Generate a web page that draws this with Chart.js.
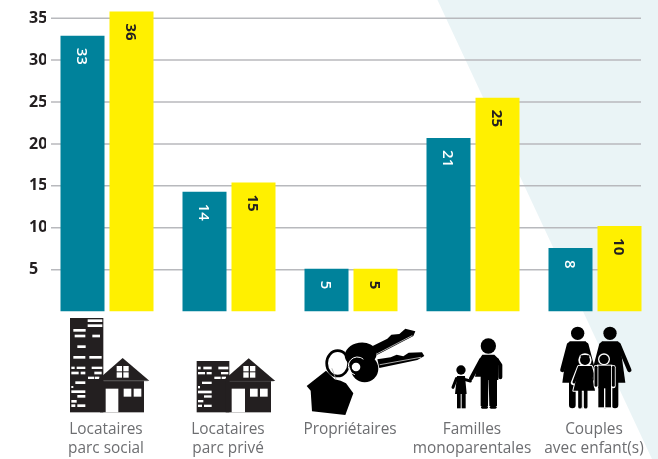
<!DOCTYPE html>
<html><head><meta charset="utf-8">
<style>html,body{margin:0;padding:0;background:#fff}canvas{display:block}</style>
<script src="https://cdn.jsdelivr.net/npm/chart.js@4"></script>
</head><body><canvas id="c" width="658" height="459"></canvas>
<script>
const categories = [["Locataires","parc social"],["Locataires","parc privé"],"Propriétaires",["Familles","monoparentales"],["Couples","avec enfant(s)"]];
const tealValues = [32.9,14.3,5.1,20.7,7.6];
const yellowValues = [35.8,15.4,5.1,25.5,10.2];
const tealLabels = ["33","14","5","21","8"];
const yellowLabels = ["36","15","5","25","10"];
const yTicks = [5,10,15,20,25,30,35];

const INK = "#231f20";
function zoomed(ctx,ox,oy,fn){ctx.save();ctx.translate(ox,oy);ctx.scale(1/3,1/3);fn();ctx.restore();}
function rects(ctx,list,color){ctx.fillStyle=color;list.forEach(r=>ctx.fillRect(r[0],r[2],r[1]-r[0],r[3]-r[2]));}
function poly(ctx,pts,color){ctx.fillStyle=color;ctx.beginPath();pts.forEach((p,i)=>i?ctx.lineTo(p[0],p[1]):ctx.moveTo(p[0],p[1]));ctx.closePath();ctx.fill();}
function disc(ctx,x,y,r,color){ctx.fillStyle=color;ctx.beginPath();ctx.arc(x,y,r,0,Math.PI*2);ctx.fill();}
function limb(ctx,pts,w,color){ctx.strokeStyle=color;ctx.lineWidth=w;ctx.lineCap="round";ctx.lineJoin="round";ctx.beginPath();pts.forEach((p,i)=>i?ctx.lineTo(p[0],p[1]):ctx.moveTo(p[0],p[1]));ctx.stroke();}

function house(ctx,h){
  poly(ctx,[[h.ax,h.ay],[h.rx,h.ry],[h.lx,h.ry]],INK);
  rects(ctx,[[h.bl,h.br,h.ry,h.bot]],INK);
  limb(ctx,[[h.lx+22,h.ry+1],[h.rx-6,h.ry+1]],1.2,"#777");
  rects(ctx,[[h.dl,h.dr,h.wt,h.bot],[h.w1,h.w1+23,h.wt,h.wt+24],[h.w1+30,h.w1+53,h.wt,h.wt+24],
    [h.al,h.al+16,h.at,h.at+16],[h.al+20,h.al+36,h.at,h.at+16],[h.al,h.al+16,h.at+19,h.at+35],[h.al+20,h.al+36,h.at+19,h.at+35]],"#fff");
}
function icon1(ctx){zoomed(ctx,60,314,()=>{
  rects(ctx,[[30,130,12,295]],INK);
  rects(ctx,[[83,127,16,24],[83,127,31,39],[40,77,45,53],[44,76,62,70],[97,120,62,70],[52,77,94,102],[40,76,126,134],[88,125,126,134],[34,44,158,165],[50,76,158,165],[95,127,158,165],[34,56,173,181],[62,76,173,181],[103,125,173,181],[84,103,188,195],[105,118,188,195],[46,76,202,210],[34,40,216,222],[34,76,229,237],[52,76,243,251],[34,50,258,266],[34,46,271,279],[52,76,271,279]],"#fff");
  house(ctx,{ax:188,ay:132,lx:110,rx:268,ry:200,bl:120,br:252,bot:295,dl:137,dr:175,wt:224,w1:191,al:170,at:156});
});}
function icon2(ctx){zoomed(ctx,190,350,()=>{
  rects(ctx,[[20,118,33,187]],INK);
  rects(ctx,[[24,32,50,58],[40,65,50,58],[85,115,50,58],[24,45,66,73],[50,65,66,73],[93,115,66,73],[73,92,80,87],[95,108,80,87],[36,65,95,102],[24,30,108,115],[24,65,122,130],[42,65,136,143],[24,40,150,157],[24,36,164,171],[42,65,164,171]],"#fff");
  house(ctx,{ax:176,ay:25,lx:98,rx:256,ry:93,bl:107,br:243,bot:187,dl:125,dr:165,wt:116,w1:180,al:160,at:48});
});}
function icon3(ctx){zoomed(ctx,300,322,()=>{
  // ring behind
  ctx.strokeStyle="#000";ctx.lineWidth=8;ctx.beginPath();ctx.ellipse(113,124,33,38,0,0,Math.PI*2);ctx.stroke();
  // house tag
  poly(ctx,[[20,192],[78,146],[104,172],[122,176],[138,184],[160,214],[136,279],[36,268],[32,206]],"#000");
  // key blades
  poly(ctx,[[218,72],[262,50],[274,38],[298,36],[316,20],[346,28],[340,42],[232,98]],"#000");
  poly(ctx,[[232,112],[272,106],[290,98],[310,103],[326,92],[366,91],[373,102],[352,114],[238,138]],"#000");
  // key heads
  ctx.fillStyle="#000";ctx.beginPath();ctx.ellipse(182,98,48,36,-0.15,0,Math.PI*2);ctx.fill();
  disc(ctx,194,140,41,"#000");
  // slits
  limb(ctx,[[232,95],[336,41]],2,"#fff");
  limb(ctx,[[240,128],[362,106]],2,"#fff");
  // hole and small ring
  disc(ctx,168,135,13,"#fff");
  ctx.strokeStyle="#fff";ctx.lineWidth=3;ctx.beginPath();ctx.arc(172,132,27,1.9,5.4);ctx.stroke();
  ctx.strokeStyle="#000";ctx.lineWidth=5;ctx.beginPath();ctx.arc(172,134,20,0,Math.PI*2);ctx.stroke();
  limb(ctx,[[96,140],[108,172]],2.5,"#aaa");
});}
function icon4(ctx){zoomed(ctx,445,330,()=>{
  disc(ctx,130,48,23,"#000");
  poly(ctx,[[112,74],[148,74],[162,88],[160,150],[156,150],[156,228],[133,228],[131,150],[130,150],[129,228],[107,228],[107,140],[90,140],[103,88]],"#000");
  limb(ctx,[[108,90],[78,145]],12,"#000");
  limb(ctx,[[156,90],[166,105],[166,142]],12,"#000");
  limb(ctx,[[112,232],[125,232]],8,"#000");limb(ctx,[[138,232],[151,232]],8,"#000");
  disc(ctx,48,120,14,"#000");
  poly(ctx,[[36,138],[60,138],[65,192],[30,192]],"#000");
  limb(ctx,[[34,146],[24,172]],9,"#000");
  limb(ctx,[[58,148],[76,153]],9,"#000");
  rects(ctx,[[36,47,190,235],[50,62,190,235]],"#000");
});}
function woman(ctx,cx,left,right,legs){
  disc(ctx,cx,40,20,"#000");
  poly(ctx,[[cx-24,64],[cx+24,64],[cx+30,72],[cx+46,188],[cx-46,188],[cx-30,72]],"#000");
  limb(ctx,[[cx-26,74],[left,150]],13,"#000");
  limb(ctx,[[cx+26,74],[right,150]],13,"#000");
  legs.forEach(l=>limb(ctx,[[l,185],[l,255]],20,"#000"));
}
function icon5(ctx){zoomed(ctx,550,320,()=>{
  woman(ctx,83,37,129,[67,96]);
  woman(ctx,180,134,238,[165,195]);
  // girl with white outline
  ctx.lineWidth=6;ctx.strokeStyle="#fff";ctx.lineJoin="round";
  const girl=[[88,138],[122,138],[135,212],[70,212]];
  ctx.beginPath();girl.forEach((p,i)=>i?ctx.lineTo(p[0],p[1]):ctx.moveTo(p[0],p[1]));ctx.closePath();ctx.stroke();
  limb(ctx,[[88,142],[70,188]],15,"#fff");limb(ctx,[[122,142],[135,180]],15,"#fff");
  limb(ctx,[[90,205],[90,262]],17,"#fff");limb(ctx,[[107,205],[107,262]],17,"#fff");
  disc(ctx,105,120,20,"#fff");
  rects(ctx,[[92,118,104,114]],"#fff");
  poly(ctx,girl,"#000");
  limb(ctx,[[88,142],[72,186]],9,"#000");limb(ctx,[[122,142],[133,178]],9,"#000");
  limb(ctx,[[90,205],[90,260]],11,"#000");limb(ctx,[[107,205],[107,260]],11,"#000");
  disc(ctx,105,120,15,"#000");
  rects(ctx,[[92,118,106,112]],"#000");
  // boy with white outline
  limb(ctx,[[138,142],[138,198]],14,"#fff");limb(ctx,[[190,142],[190,198]],14,"#fff");
  rects(ctx,[[141,187,134,205],[141,187,200,265]],"#fff");
  disc(ctx,162,118,18,"#fff");
  limb(ctx,[[138,142],[138,196]],9,"#000");limb(ctx,[[190,142],[190,196]],9,"#000");
  rects(ctx,[[145,183,137,205],[145,162,200,262],[166,183,200,262]],"#000");
  disc(ctx,162,118,14,"#000");
});}

const backdrop = {id:"backdrop",beforeDraw(chart){
  const {ctx,width,height}=chart;
  poly(ctx,[[437.5,0],[width,0],[width,height],[652,height]],"#eaf4f6");
}};
const gridLines = {id:"gridLines",beforeDatasetsDraw(chart){
  const {ctx,chartArea:a,scales:{y}}=chart;
  ctx.save();ctx.strokeStyle="#b8b9bd";ctx.lineWidth=1.5;
  yTicks.forEach(t=>{const p=y.getPixelForValue(t);ctx.beginPath();ctx.moveTo(a.left+5,p);ctx.lineTo(a.right-15,p);ctx.stroke();});
  ctx.restore();
}};
const barLabels = {id:"barLabels",afterDatasetsDraw(chart){
  const {ctx}=chart;
  const sets=[{m:chart.getDatasetMeta(0),t:tealLabels,c:"#ffffff",f:'600 15px "Open Sans"'},{m:chart.getDatasetMeta(1),t:yellowLabels,c:"#231f20",f:'700 15px "Open Sans"'}];
  sets.forEach(s=>s.m.data.forEach((b,i)=>{
    ctx.save();ctx.translate(b.x-1.5,b.y+12);ctx.rotate(Math.PI/2);
    ctx.font=s.f;ctx.fillStyle=s.c;ctx.textAlign="left";ctx.textBaseline="middle";
    ctx.fillText(s.t[i],0,0);ctx.restore();
  }));
}};
const icons = {id:"icons",afterDraw(chart){
  const {ctx}=chart;
  [icon1,icon2,icon3,icon4,icon5].forEach(f=>f(ctx));
}};

new Chart(document.getElementById("c"),{
  type:"bar",
  data:{labels:categories,datasets:[
    {data:tealValues,backgroundColor:"#00829b"},
    {data:yellowValues,backgroundColor:"#fff000"}
  ]},
  plugins:[backdrop,gridLines,barLabels,icons],
  options:{
    responsive:false,animation:false,
    layout:{padding:{left:29,right:2,top:0,bottom:0}},
    plugins:{legend:{display:false},tooltip:{enabled:false}},
    datasets:{bar:{categoryPercentage:98/122,barPercentage:44/49}},
    scales:{
      x:{
        grid:{display:true,drawOnChartArea:false,drawTicks:true,tickLength:108,tickColor:"transparent"},border:{display:false},
        afterFit(s){s.height=147.4;s.paddingLeft=0;s.paddingRight=0;},
        ticks:{maxRotation:0,minRotation:0,autoSkip:false,padding:0,labelOffset:-1,color:"#6d6e71",font:{family:"Open Sans",size:15.4,lineHeight:1.27}}
      },
      y:{
        min:0,max:37.17,
        grid:{display:false},border:{display:false},
        afterFit(s){s.width=17;s.paddingTop=0;s.paddingBottom=0;},
        afterBuildTicks(s){s.ticks=yTicks.map(v=>({value:v}));},
        ticks:{crossAlign:"far",padding:0,color:"#231f20",font:{family:"Open Sans",size:16,weight:"700"}}
      }
    }
  }
});
</script></body></html>
